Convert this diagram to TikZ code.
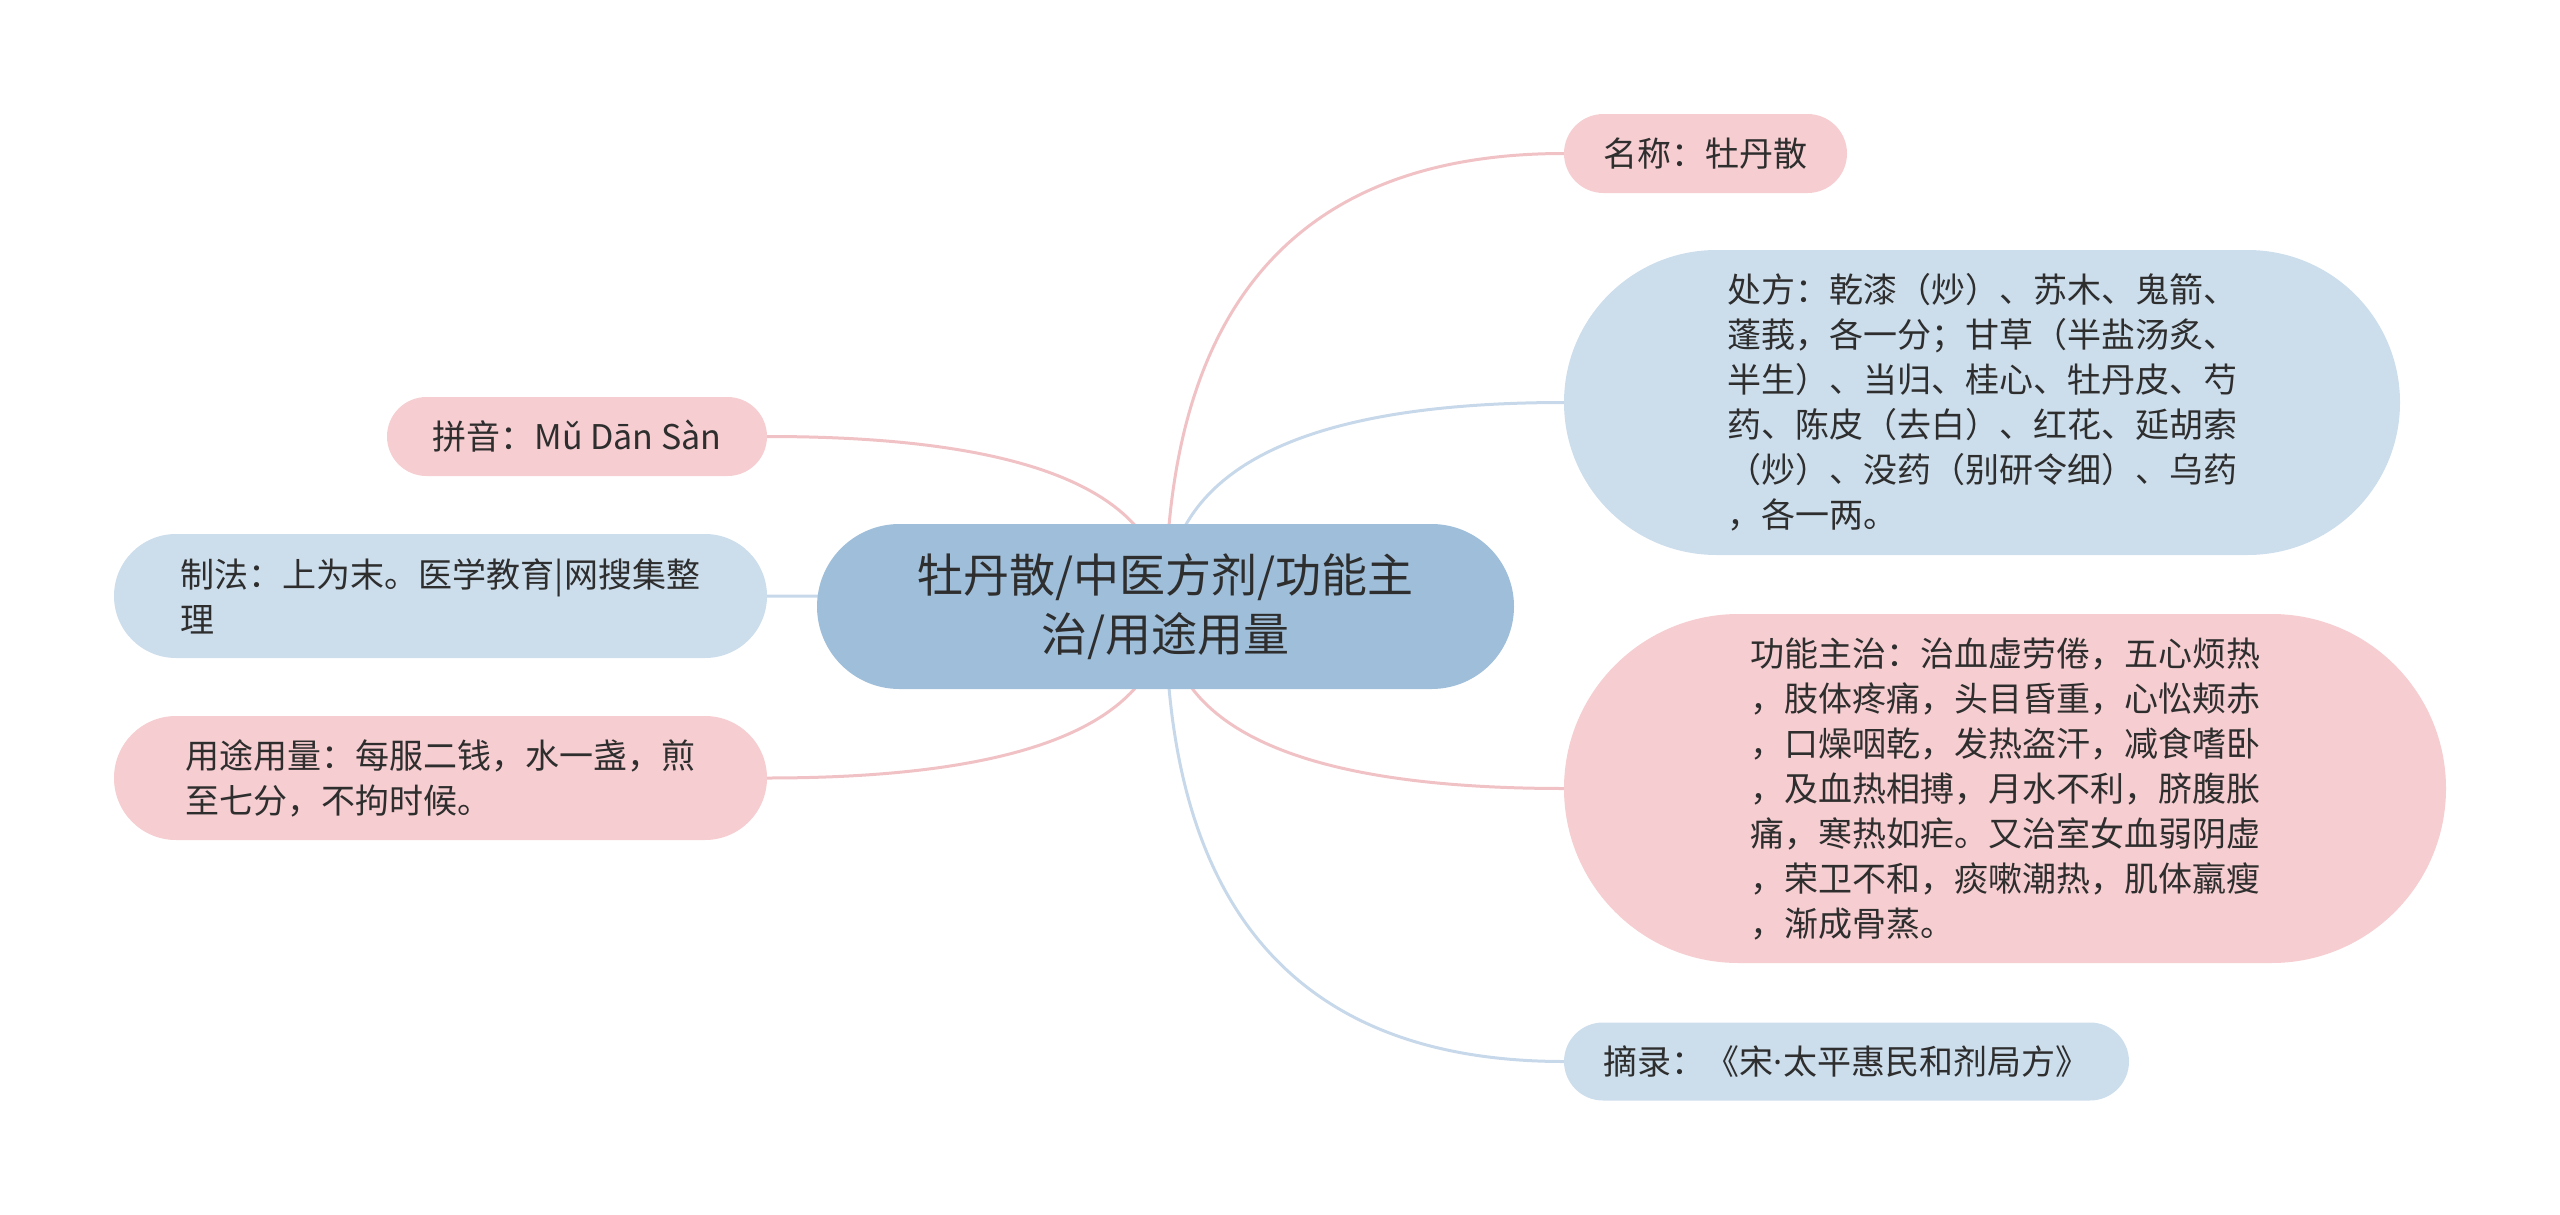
\documentclass[tikz,border=0pt]{standalone}
\usepackage{fontspec}
\setmainfont{Noto Sans CJK SC}
\newfontfamily\latinfont{Noto Sans}
\usetikzlibrary{calc,backgrounds}
\definecolor{pinkfill}{HTML}{F6CDD0}
\definecolor{bluefill}{HTML}{CCDDEC}
\definecolor{rootfill}{HTML}{9FBED9}
\definecolor{pinkline}{HTML}{F1C2C5}
\definecolor{blueline}{HTML}{C6D8E9}
\definecolor{txt}{HTML}{2E2E2E}
\tikzset{
  leaf/.style={inner sep=0pt, align=left, text=txt, font=\fontsize{34}{45}\selectfont},
  rootbox/.style={inner sep=0pt, align=center, text=txt, fill=rootfill, font=\fontsize{46}{59}\selectfont},
  pinkleaf/.style={leaf, fill=pinkfill},
  blueleaf/.style={leaf, fill=bluefill},
  pinkconn/.style={draw=pinkline, line width=3pt},
  blueconn/.style={draw=blueline, line width=3pt},
}
\newcommand\mmlink[2]{%
  \coordinate (mmq) at (root.center |- #1);
  \draw[#2] (root.center) .. controls ($(root.center)!0.6667!(mmq)$) and ($(#1)!0.6667!(mmq)$) .. (#1);}
\begin{document}
\begin{tikzpicture}[x=1pt,y=-1pt]
\useasboundingbox (0,0) rectangle (2560,1215);
% root
\node[rootbox, minimum width=697pt, minimum height=165pt, rounded corners=82.5pt] (root) at (1165.5,606.5)
  {牡丹散/中医方剂/功能主\\治/用途用量};
% right side
\node[pinkleaf, minimum width=283pt, minimum height=79pt, rounded corners=39.5pt] (name) at (1705.5,153.5)
  {名称：牡丹散};
\node[blueleaf, minimum width=836pt, minimum height=305pt, rounded corners=152.5pt] (chufang) at (1982,402.5)
  {处方：乾漆（炒）、苏木、鬼箭、\\蓬莪，各一分；甘草（半盐汤炙、\\半生）、当归、桂心、牡丹皮、芍\\药、陈皮（去白）、红花、延胡索\\（炒）、没药（别研令细）、乌药\\，各一两。};
\node[pinkleaf, minimum width=882pt, minimum height=349pt, rounded corners=174.5pt] (gongneng) at (2005,788.5)
  {功能主治：治血虚劳倦，五心烦热\\，肢体疼痛，头目昏重，心忪颊赤\\，口燥咽乾，发热盗汗，减食嗜卧\\，及血热相搏，月水不利，脐腹胀\\痛，寒热如疟。又治室女血弱阴虚\\，荣卫不和，痰嗽潮热，肌体羸瘦\\，渐成骨蒸。};
\node[blueleaf, minimum width=565pt, minimum height=78pt, rounded corners=39pt] (zhailu) at (1846.5,1061.5)
  {摘录：《宋{\latinfont ·}太平惠民和剂局方》};
% left side
\node[pinkleaf, minimum width=380pt, minimum height=79pt, rounded corners=39.5pt] (pinyin) at (577,436.5)
  {拼音：Mǔ Dān Sàn};
\node[blueleaf, minimum width=653pt, minimum height=124pt, rounded corners=62pt] (zhifa) at (440.5,596)
  {制法：上为末。医学教育|网搜集整\\理};
\node[pinkleaf, minimum width=653pt, minimum height=124pt, rounded corners=62pt] (yongtu) at (440.5,778)
  {用途用量：每服二钱，水一盏，煎\\至七分，不拘时候。};
% connectors
\begin{scope}[on background layer]
  \mmlink{name.west}{pinkconn}
  \mmlink{chufang.west}{blueconn}
  \mmlink{gongneng.west}{pinkconn}
  \mmlink{zhailu.west}{blueconn}
  \mmlink{pinyin.east}{pinkconn}
  \mmlink{zhifa.east}{blueconn}
  \mmlink{yongtu.east}{pinkconn}
\end{scope}
\end{tikzpicture}
\end{document}
